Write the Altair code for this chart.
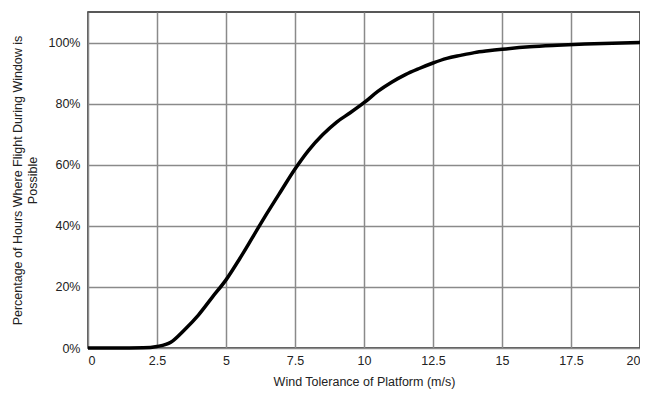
import altair as alt
import pandas as pd

wind = [0, 0.5, 1, 1.5, 2, 2.5, 3, 3.5, 4, 4.5, 5, 5.5, 6, 6.5, 7, 7.5, 8, 8.5,
        9, 9.5, 10, 10.5, 11, 11.5, 12, 12.5, 13, 13.5, 14, 14.5, 15, 16, 17,
        18, 19, 20]
pct = [0, 0, 0, 0, 0.05, 0.5, 1.9, 6.0, 10.8, 16.6, 22.3, 29.3, 36.8, 44.3,
       51.5, 58.6, 64.8, 69.8, 73.9, 77.0, 80.3, 84.0, 87.0, 89.5, 91.5, 93.3,
       94.8, 95.8, 96.7, 97.3, 97.8, 98.6, 99.1, 99.5, 99.8, 100.0]

df = pd.DataFrame({"wind": wind, "pct": [p / 100 for p in pct]})

font = "Liberation Sans"

chart = alt.Chart(df).mark_line(color="black", strokeWidth=3.5, interpolate="monotone").encode(
    x=alt.X("wind:Q",
            scale=alt.Scale(domain=[0, 20], nice=False, zero=True),
            axis=alt.Axis(values=[0, 2.5, 5, 7.5, 10, 12.5, 15, 17.5, 20],
                          labelExpr="format(datum.value, '~g')",
                          title="Wind Tolerance of Platform (m/s)",
                          titlePadding=9, labelPadding=6)),
    y=alt.Y("pct:Q",
            scale=alt.Scale(domain=[0, 1.1], nice=False),
            axis=alt.Axis(values=[0, 0.2, 0.4, 0.6, 0.8, 1.0], format=".0%",
                          title=["Percentage of Hours Where Flight During Window is", "Possible"],
                          titlePadding=9, labelPadding=8)),
).properties(
    width=552, height=336,
    autosize=alt.AutoSizeParams(type="none"),
    padding={"left": 80, "top": 4, "right": 0, "bottom": 43},
).configure_axis(
    grid=True, gridColor="#8a8a8a", gridWidth=1.5, gridOpacity=1,
    domain=False, ticks=False,
    labelFont=font, labelFontSize=12.5, labelColor="#222",
    titleFont=font, titleFontSize=12.5, titleFontWeight="normal", titleColor="#222",
).configure_view(stroke="#222", strokeWidth=1.5)

chart.save("out.html", embed_options={"renderer": "svg", "actions": False})
